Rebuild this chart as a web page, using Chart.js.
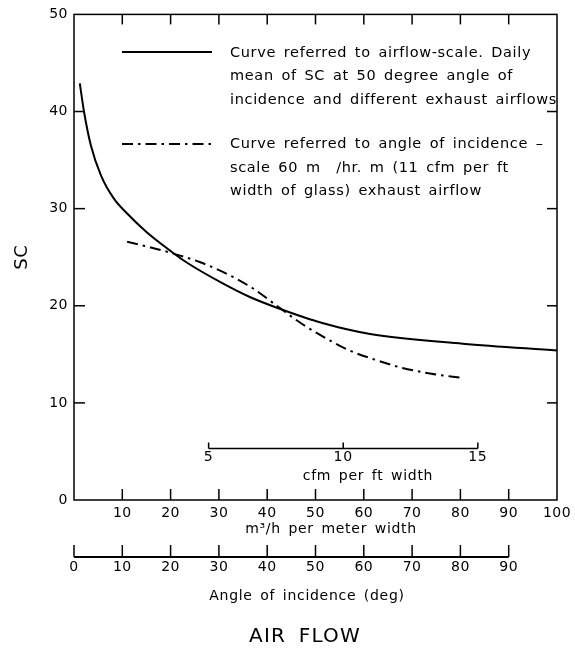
<!DOCTYPE html>
<html><head><meta charset="utf-8">
<script src="https://cdn.jsdelivr.net/npm/chart.js@4.4.1/dist/chart.umd.min.js"></script>
<style>html,body{margin:0;padding:0;background:#fff}</style>
</head><body>
<canvas id="c" width="575" height="649"></canvas>
<script>
// ---- data ----
const airflow   = [1.2, 2.1, 3.5, 5.6, 8.3, 11, 15, 19.3, 23.5, 30.8, 36.4, 42, 51.6, 61.3, 80.5, 100];
const scAirflow = [42.9, 39.9, 36.5, 33.4, 31.0, 29.5, 27.6, 25.9, 24.4, 22.3, 20.9, 19.8, 18.2, 17.1, 16.1, 15.4];
const angle     = [11, 19, 26, 32, 37, 42, 47, 52, 57, 62, 68, 74, 80];
const scAngle   = [26.6, 25.6, 24.5, 23.2, 21.8, 20.0, 18.2, 16.7, 15.4, 14.5, 13.6, 13.0, 12.6];
const yTicks       = [0, 10, 20, 30, 40, 50];
const airflowTicks = [10, 20, 30, 40, 50, 60, 70, 80, 90, 100];
const angleTicks   = [0, 10, 20, 30, 40, 50, 60, 70, 80, 90];
const cfmTicks     = [5, 10, 15];
const CFM_TO_AIRFLOW = 5.574;            // 1 cfm per ft = 5.574 m3/h per m
const CFM_MAX = 100 / CFM_TO_AIRFLOW;
const CFM_AXIS_SC = 5.3;                 // level of the inner cfm scale
const legendSolid = ['Curve referred to airflow-scale. Daily',
                     'mean of SC at 50 degree angle of',
                     'incidence and different exhaust airflows'];
const legendDash  = ['Curve referred to angle of incidence \u2013',
                     'scale 60 m  /hr. m (11 cfm per ft',
                     'width of glass) exhaust airflow'];
const xTitle = 'm\u00B3/h per meter width';
const angleTitle = 'Angle of incidence (deg)';
const cfmTitle = 'cfm per ft width';
const mainTitle = 'AIR FLOW';

const FONT = "'DejaVu Sans', sans-serif";
Chart.defaults.font.family = FONT;
Chart.defaults.color = '#000';
const DASH = [11, 5, 2.5, 5];

function line(ctx, x1, y1, x2, y2) { ctx.beginPath(); ctx.moveTo(x1, y1); ctx.lineTo(x2, y2); ctx.stroke(); }

const framePlugin = {
  id: 'frame',
  beforeDraw(chart) {
    const ctx = chart.ctx;
    ctx.letterSpacing = '0.5px';
    ctx.wordSpacing = '2.5px';
  },
  afterDraw(chart) {
    const {ctx, chartArea: a, scales: {x, y, xAngle, cfm}} = chart;
    ctx.save();
    ctx.letterSpacing = '0.7px';
    ctx.wordSpacing = '2.5px';
    ctx.strokeStyle = '#000';
    ctx.fillStyle = '#000';
    ctx.lineWidth = 1.5;
    ctx.strokeRect(a.left, a.top, a.right - a.left, a.bottom - a.top);
    // inward ticks
    x.ticks.forEach(t => {
      if (t.value <= 0 || t.value >= 100) return;
      const px = x.getPixelForValue(t.value);
      line(ctx, px, a.bottom, px, a.bottom - 11);
      line(ctx, px, a.top, px, a.top + 10);
    });
    y.ticks.forEach(t => {
      if (t.value <= 0 || t.value >= 50) return;
      const py = y.getPixelForValue(t.value);
      line(ctx, a.left, py, a.left + 11, py);
      line(ctx, a.right, py, a.right - 10, py);
    });
    // angle of incidence axis
    const ay = xAngle.top;
    ctx.lineWidth = 1.8;
    line(ctx, xAngle.getPixelForValue(angleTicks[0]), ay, xAngle.getPixelForValue(angleTicks[angleTicks.length - 1]), ay);
    ctx.lineWidth = 1.5;
    angleTicks.forEach(v => { const px = xAngle.getPixelForValue(v); line(ctx, px, ay, px, ay - 12); });
    // inner cfm scale
    const cy = y.getPixelForValue(CFM_AXIS_SC);
    line(ctx, cfm.getPixelForValue(cfmTicks[0]), cy, cfm.getPixelForValue(cfmTicks[cfmTicks.length - 1]), cy);
    ctx.font = '14px ' + FONT;
    ctx.textAlign = 'center';
    ctx.textBaseline = 'middle';
    cfmTicks.forEach(v => {
      const px = cfm.getPixelForValue(v);
      line(ctx, px, cy, px, cy - 6);
      ctx.fillText(String(v), px, cy + 9);
    });
    ctx.fillText(cfmTitle, 368, cy + 28);
    // axis titles
    ctx.fillText(xTitle, 331, 529);
    ctx.fillText(angleTitle, 307, 596);
    ctx.font = '20px ' + FONT;
    ctx.letterSpacing = '1.2px';
    ctx.wordSpacing = '5px';
    ctx.fillText(mainTitle, 305, 637);
    // legend
    ctx.letterSpacing = '0.65px';
    ctx.wordSpacing = '2.5px';
    ctx.font = '14.5px ' + FONT;
    const ds0 = chart.data.datasets[0], ds1 = chart.data.datasets[1];
    ctx.lineWidth = ds0.borderWidth;
    ctx.setLineDash(ds0.borderDash || []);
    line(ctx, 122, 52, 212, 52);
    ctx.lineWidth = ds1.borderWidth;
    ctx.setLineDash(ds1.borderDash);
    line(ctx, 122, 144, 212, 144);
    ctx.setLineDash([]);
    ctx.textAlign = 'left';
    legendSolid.forEach((s, i) => ctx.fillText(s, 230, 53 + i * 23.5));
    legendDash.forEach((s, i) => ctx.fillText(s, 230, 144 + i * 23.8));
    ctx.restore();
  }
};

new Chart(document.getElementById('c'), {
  type: 'line',
  data: {
    datasets: [
      { label: 'Airflow scale', data: airflow.map((v, i) => ({x: v, y: scAirflow[i]})),
        xAxisID: 'x', yAxisID: 'y', borderColor: '#000', borderWidth: 2, pointRadius: 0,
        cubicInterpolationMode: 'monotone', fill: false },
      { label: 'Angle scale', data: angle.map((v, i) => ({x: v, y: scAngle[i]})),
        xAxisID: 'xAngle', yAxisID: 'y', borderColor: '#000', borderWidth: 2, borderDash: DASH,
        pointRadius: 0, cubicInterpolationMode: 'monotone', fill: false }
    ]
  },
  options: {
    responsive: false, animation: false, devicePixelRatio: 1,
    layout: {padding: {top: 12, right: 18, left: 0, bottom: 30}},
    plugins: { legend: {display: false}, tooltip: {enabled: false} },
    scales: {
      x: {
        type: 'linear', position: 'bottom', min: 0, max: 100,
        afterBuildTicks: s => { s.ticks = airflowTicks.map(v => ({value: v})); },
        grid: {display: false, drawTicks: false}, border: {display: false},
        ticks: {padding: 4.6, maxRotation: 0, autoSkip: false, font: {size: 14}, color: '#000'},
        afterFit: s => { s.height = 57; }
      },
      xAngle: {
        type: 'linear', position: 'bottom', min: 0, max: 100,
        afterBuildTicks: s => { s.ticks = angleTicks.map(v => ({value: v})); },
        grid: {display: false, drawTicks: false}, border: {display: false},
        ticks: {padding: 1.6, maxRotation: 0, autoSkip: false, font: {size: 14}, color: '#000'},
        afterFit: s => { s.height = 62; }
      },
      cfm: { type: 'linear', axis: 'x', position: 'bottom', display: false, min: 0, max: CFM_MAX },
      y: {
        type: 'linear', position: 'left', min: 0, max: 50,
        afterBuildTicks: s => { s.ticks = yTicks.map(v => ({value: v})); },
        grid: {display: false, drawTicks: false}, border: {display: false},
        ticks: {padding: 6, font: {size: 14}, color: '#000'},
        title: {display: true, text: 'SC', font: {size: 18}, color: '#000', padding: {top: 12, bottom: 0}},
        afterFit: s => { s.width = 74; }
      }
    }
  },
  plugins: [framePlugin]
});
</script>
</body></html>
